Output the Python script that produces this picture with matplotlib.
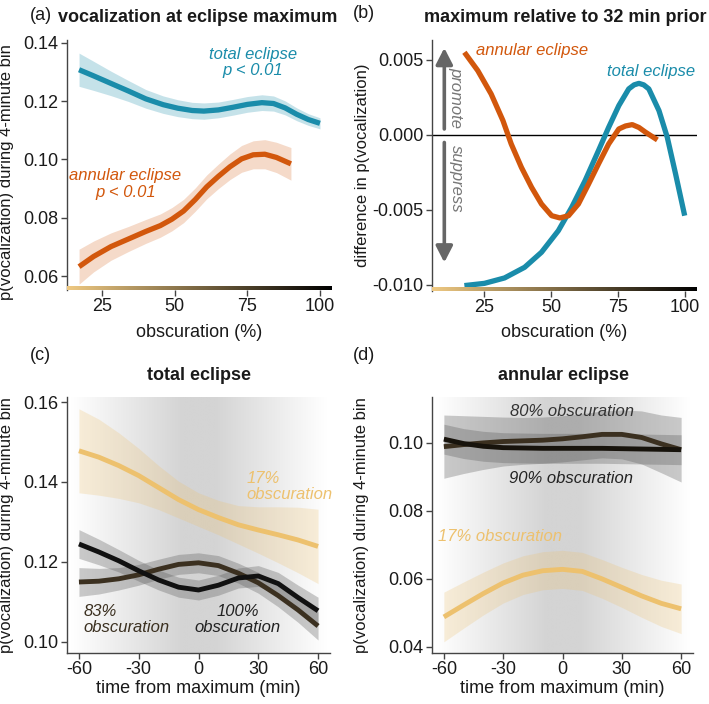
import matplotlib
matplotlib.use('Agg')
import matplotlib.pyplot as plt
import numpy as np
from matplotlib.colors import LinearSegmentedColormap

plt.rcParams['font.family'] = ['Liberation Sans', 'DejaVu Sans']
plt.rcParams['axes.unicode_minus'] = False

# --- DATA ---
# (a) p(vocalization) at eclipse maximum vs obscuration
a_total_x = [17, 22, 28, 34, 40, 46, 51, 56, 60, 65, 70, 75, 80, 84, 88, 92, 96, 100]
a_total_y = [0.1308, 0.1287, 0.1261, 0.1235, 0.1208, 0.1188, 0.1176, 0.1168, 0.1166,
             0.1170, 0.1179, 0.1189, 0.1195, 0.1192, 0.1177, 0.1155, 0.1137, 0.1124]
a_total_ci = [0.0057, 0.0050, 0.0042, 0.0036, 0.0032, 0.0030, 0.0029, 0.0028, 0.0028,
              0.0027, 0.0027, 0.0027, 0.0027, 0.0026, 0.0024, 0.0022, 0.0020, 0.0019]
a_annular_x = [17, 22, 28, 34, 40, 45, 49, 53, 57, 61, 65, 69, 73, 77, 81, 85, 90]
a_annular_y = [0.0632, 0.0667, 0.0701, 0.0727, 0.0753, 0.0773, 0.0795, 0.0823, 0.0862,
               0.0906, 0.0942, 0.0975, 0.1002, 0.1016, 0.1018, 0.1007, 0.0985]
a_annular_ci = [0.0060, 0.0053, 0.0047, 0.0043, 0.0041, 0.0040, 0.0040, 0.0040, 0.0040,
                0.0041, 0.0042, 0.0044, 0.0046, 0.0048, 0.0050, 0.0052, 0.0056]

# (b) difference maximum vs 32 min prior
b_annular_x = [17.6, 22.6, 27.6, 32, 35.1, 38.9, 42.7, 46.4, 50.2, 53.3, 56.5, 60.2,
               64, 67.7, 71.5, 75.3, 77.8, 80.3, 82.8, 85.3, 89.7]
b_annular_y = [0.00551, 0.00429, 0.00273, 0.00096, -0.0006, -0.00216, -0.00349,
               -0.0046, -0.00538, -0.00553, -0.00538, -0.0046, -0.00327, -0.00193,
               -0.0006, 0.0004, 0.0006, 0.00069, 0.0005, 0.00018, -0.00033]
b_total_x = [17.6, 25.1, 32.6, 40.1, 46.4, 52.7, 57.7, 62.7, 67.7, 71.5, 75.3, 79,
             81, 82.8, 84.6, 86.5, 90.3, 93.4, 96.5, 99.9]
b_total_y = [-0.01004, -0.00989, -0.00953, -0.00882, -0.00782, -0.00638, -0.00482,
             -0.00304, -0.00104, 0.00051, 0.00196, 0.00307, 0.00334, 0.00344,
             0.00334, 0.00307, 0.00162, -0.00016, -0.0026, -0.00538]

# (c) total eclipse, time from maximum
t_min = [-60, -50, -40, -30, -20, -10, 0, 10, 20, 30, 40, 50, 60]
c_17 = [0.1478, 0.1462, 0.1441, 0.1416, 0.1386, 0.1356, 0.1331, 0.1311, 0.1293,
        0.1280, 0.1268, 0.1255, 0.1239]
c_17_ci = [0.0105, 0.0095, 0.0082, 0.0068, 0.0055, 0.0046, 0.0042, 0.0043, 0.0048,
           0.0058, 0.0070, 0.0082, 0.0093]
c_83 = [0.1150, 0.1152, 0.1158, 0.1168, 0.1182, 0.1194, 0.1198, 0.1191, 0.1172,
        0.1148, 0.1116, 0.1080, 0.1040]
c_83_ci = [0.0036, 0.0032, 0.0028, 0.0026, 0.0025, 0.0025, 0.0025, 0.0025, 0.0025,
           0.0026, 0.0028, 0.0031, 0.0035]
c_100 = [0.1245, 0.1225, 0.1203, 0.1178, 0.1155, 0.1137, 0.1130, 0.1142, 0.1160,
         0.1165, 0.1146, 0.1111, 0.1078]
c_100_ci = [0.0036, 0.0032, 0.0028, 0.0026, 0.0025, 0.0025, 0.0025, 0.0025, 0.0025,
            0.0026, 0.0028, 0.0031, 0.0034]

# (d) annular eclipse, time from maximum
d_17 = [0.0488, 0.0523, 0.0557, 0.0588, 0.0611, 0.0624, 0.0628, 0.0622, 0.0600,
        0.0575, 0.0550, 0.0528, 0.0512]
d_17_ci = [0.0073, 0.0068, 0.0063, 0.0059, 0.0057, 0.0056, 0.0056, 0.0056, 0.0057,
           0.0059, 0.0063, 0.0068, 0.0073]
d_80 = [0.0989, 0.0995, 0.1000, 0.1004, 0.1006, 0.1008, 0.1012, 0.1018, 0.1025,
        0.1025, 0.1016, 0.0997, 0.0980]
d_80_ci = [0.0093, 0.0085, 0.0078, 0.0072, 0.0069, 0.0068, 0.0068, 0.0068, 0.0069,
           0.0072, 0.0078, 0.0085, 0.0095]
d_90 = [0.1011, 0.0998, 0.0990, 0.0986, 0.0985, 0.0984, 0.0984, 0.0984, 0.0984,
        0.0983, 0.0982, 0.0981, 0.0980]
d_90_ci = [0.0044, 0.0044, 0.0044, 0.0044, 0.0044, 0.0044, 0.0044, 0.0044, 0.0044,
           0.0044, 0.0044, 0.0044, 0.0044]

# --- STYLE ---
TEAL = '#1A8CAA'
ORANGE = '#D2570C'
TAN = '#EDC16E'
BROWN = '#3B3020'
BLACK = '#111111'
AX_COL = '#444444'
TXT = '#1a1a1a'
obsc_cmap = LinearSegmentedColormap.from_list('obsc', ['#EFC982', '#000000'])
sky_cmap = LinearSegmentedColormap.from_list('sky', ['#D4D4D4', '#FFFFFF'])

fig = plt.figure(figsize=(7.09, 7.04), dpi=100, facecolor='white')

W, H = 709, 704
def box(l, t, r, b):
    return [l / W, 1 - b / H, (r - l) / W, (b - t) / H]

ax_a = fig.add_axes(box(67, 40, 332, 290))
ax_b = fig.add_axes(box(432, 40, 697, 291))
ax_c = fig.add_axes(box(67, 397, 330, 653))
ax_d = fig.add_axes(box(432, 397, 693, 653))


def style(ax):
    for s in ['top', 'right']:
        ax.spines[s].set_visible(False)
    for s in ['left', 'bottom']:
        ax.spines[s].set_color(AX_COL)
        ax.spines[s].set_linewidth(1.0)
    ax.tick_params(direction='out', length=4, width=1, color=AX_COL,
                   labelsize=13, labelcolor=TXT, pad=2)


def line(ax, x, y, color, lw=3.8, z=3):
    ax.plot(x, y, color=color, lw=lw, solid_capstyle='butt',
            solid_joinstyle='round', zorder=z)


def ribbon(ax, x, y, ci, color, alpha):
    y = np.array(y)
    ci = np.array(ci)
    ax.fill_between(x, y - ci, y + ci, color=color, alpha=alpha, lw=0, zorder=2)


def obsc_bar(ax, l, r, b):
    bar = fig.add_axes(box(l, b - 4, r, b))
    bar.imshow(np.linspace(0, 1, 256)[None, :], aspect='auto', cmap=obsc_cmap,
               extent=(0, 1, 0, 1))
    bar.set_axis_off()
    ax.spines['bottom'].set_visible(False)


def sky(ax, ylim):
    xs = np.linspace(-64, 64, 400)
    prof = np.clip((np.abs(xs) - 8) / 56, 0, 1)
    ax.imshow(prof[None, :], aspect='auto', cmap=sky_cmap, vmin=0, vmax=1,
              extent=(-64, 64, ylim[0], ylim[1]), zorder=0, interpolation='bilinear')


# --- (a) ---
ax = ax_a
style(ax)
ribbon(ax, a_total_x, a_total_y, a_total_ci, TEAL, 0.25)
ribbon(ax, a_annular_x, a_annular_y, a_annular_ci, ORANGE, 0.22)
line(ax, a_total_x, a_total_y, TEAL)
line(ax, a_annular_x, a_annular_y, ORANGE)
ax.set_xlim(12.85, 104.15)
ax.set_ylim(0.0552, 0.141)
ax.set_xticks([25, 50, 75, 100])
ax.set_yticks([0.06, 0.08, 0.10, 0.12, 0.14])
ax.set_yticklabels(['0.06', '0.08', '0.10', '0.12', '0.14'])
ax.text(77, 0.1333, 'total eclipse\np < 0.01', color=TEAL, style='italic',
        fontsize=12, ha='center', va='center', linespacing=1.15)
ax.text(33, 0.0915, 'annular eclipse\np < 0.01', color=ORANGE, style='italic',
        fontsize=12, ha='center', va='center', linespacing=1.15)
ax.set_xlabel('obscuration (%)', fontsize=13, color=TXT)
ax.set_ylabel('p(vocalization) during 4-minute bin', fontsize=12, color=TXT)
ax.xaxis.set_label_coords(0.5, -0.135)
ax.yaxis.set_label_coords(-0.2, 0.47)
obsc_bar(ax, 67, 332, 290)

# --- (b) ---
ax = ax_b
style(ax)
ax.axhline(0, color='black', lw=1, zorder=1)
line(ax, b_total_x, b_total_y, TEAL)
line(ax, b_annular_x, b_annular_y, ORANGE)
arrow = dict(arrowstyle='-|>,head_width=0.36,head_length=0.7', color='#666666',
             lw=2.6, mutation_scale=14, shrinkA=0, shrinkB=0)
ax.annotate('', xy=(10.1, 0.0058), xytext=(10.1, 0.0004), arrowprops=arrow)
ax.annotate('', xy=(10.1, -0.0085), xytext=(10.1, -0.0005), arrowprops=arrow)
ax.text(14.5, 0.0025, 'promote', rotation=-90, style='italic', color='#777777',
        fontsize=12, ha='center', va='center')
ax.text(14.5, -0.0029, 'suppress', rotation=-90, style='italic', color='#777777',
        fontsize=12, ha='center', va='center')
ax.text(22, 0.0056, 'annular eclipse', color=ORANGE, style='italic', fontsize=12,
        ha='left', va='center')
ax.text(70.9, 0.00424, 'total eclipse', color=TEAL, style='italic', fontsize=12,
        ha='left', va='center')
ax.set_xlim(5.5, 104.5)
ax.set_ylim(-0.0104, 0.00633)
ax.set_xticks([25, 50, 75, 100])
ax.set_yticks([-0.010, -0.005, 0.0, 0.005])
ax.set_yticklabels(['-0.010', '-0.005', '0.000', '0.005'])
ax.set_xlabel('obscuration (%)', fontsize=13, color=TXT)
ax.set_ylabel('difference in p(vocalization)', fontsize=12, color=TXT)
ax.xaxis.set_label_coords(0.5, -0.13)
ax.yaxis.set_label_coords(-0.235, 0.5)
obsc_bar(ax, 432, 697, 291)

# --- (c) ---
ax = ax_c
style(ax)
ylim_c = (0.09725, 0.16125)
sky(ax, ylim_c)
ribbon(ax, t_min, c_17, c_17_ci, TAN, 0.25)
ribbon(ax, t_min, c_83, c_83_ci, '#555555', 0.3)
ribbon(ax, t_min, c_100, c_100_ci, '#555555', 0.3)
line(ax, t_min, c_17, TAN, lw=3.5)
line(ax, t_min, c_83, BROWN, lw=3.5)
line(ax, t_min, c_100, BLACK, lw=3.5, z=4)
ax.text(24, 0.1388, '17%\nobscuration', color=TAN, style='italic', fontsize=12,
        ha='left', va='center', linespacing=1.1)
ax.text(-57.5, 0.1056, '83%\nobscuration', color=BROWN, style='italic', fontsize=12,
        ha='left', va='center', linespacing=1.1)
ax.text(19.5, 0.1056, '100%\nobscuration', color='#222222', style='italic', fontsize=12,
        ha='center', va='center', linespacing=1.1)
ax.set_xlim(-66, 66)
ax.set_ylim(*ylim_c)
ax.set_xticks([-60, -30, 0, 30, 60])
ax.set_yticks([0.10, 0.12, 0.14, 0.16])
ax.set_yticklabels(['0.10', '0.12', '0.14', '0.16'])
ax.set_xlabel('time from maximum (min)', fontsize=13, color=TXT)
ax.set_ylabel('p(vocalization) during 4-minute bin', fontsize=12, color=TXT)
ax.xaxis.set_label_coords(0.5, -0.105)
ax.yaxis.set_label_coords(-0.2, 0.5)

# --- (d) ---
ax = ax_d
style(ax)
ylim_d = (0.0382, 0.1135)
sky(ax, ylim_d)
ribbon(ax, t_min, d_17, d_17_ci, TAN, 0.25)
ribbon(ax, t_min, d_80, d_80_ci, '#555555', 0.3)
ribbon(ax, t_min, d_90, d_90_ci, '#555555', 0.3)
line(ax, t_min, d_17, TAN, lw=3.5)
line(ax, t_min, d_80, BROWN, lw=3.5)
line(ax, t_min, d_90, '#17130c', lw=3.5, z=4)
ax.text(5, 0.1091, '80% obscuration', color='#333333', style='italic', fontsize=12,
        ha='center', va='center')
ax.text(4.2, 0.0895, '90% obscuration', color='#222222', style='italic', fontsize=12,
        ha='center', va='center')
ax.text(-63, 0.0724, '17% obscuration', color=TAN, style='italic', fontsize=12,
        ha='left', va='center')
ax.set_xlim(-66, 66)
ax.set_ylim(*ylim_d)
ax.set_xticks([-60, -30, 0, 30, 60])
ax.set_yticks([0.04, 0.06, 0.08, 0.10])
ax.set_yticklabels(['0.04', '0.06', '0.08', '0.10'])
ax.set_xlabel('time from maximum (min)', fontsize=13, color=TXT)
ax.set_ylabel('p(vocalization) during 4-minute bin', fontsize=12, color=TXT)
ax.xaxis.set_label_coords(0.5, -0.105)
ax.yaxis.set_label_coords(-0.24, 0.5)

# --- titles & panel letters ---
def ftext(px, py, s, **kw):
    fig.text(px / W, 1 - py / H, s, va='center', color=TXT, **kw)

ftext(30, 15, '(a)', fontsize=13, ha='left')
ftext(198, 17, 'vocalization at eclipse maximum', fontsize=13, fontweight='bold', ha='center')
ftext(353, 13, '(b)', fontsize=13, ha='left')
ftext(565, 18, 'maximum relative to 32 min prior', fontsize=13, fontweight='bold', ha='center')
ftext(30, 355, '(c)', fontsize=13, ha='left')
ftext(199, 375, 'total eclipse', fontsize=13, fontweight='bold', ha='center')
ftext(353, 355, '(d)', fontsize=13, ha='left')
ftext(563, 375, 'annular eclipse', fontsize=13, fontweight='bold', ha='center')

fig.savefig('out.png', dpi=100, facecolor='white')
